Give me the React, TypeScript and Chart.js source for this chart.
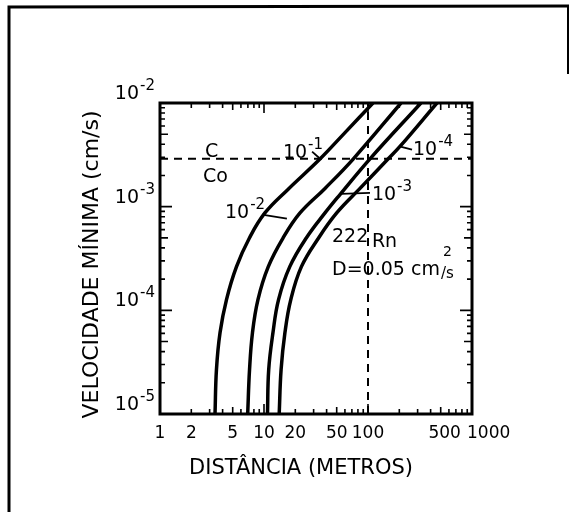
import React, { useEffect, useRef } from "react";
import { Chart, registerables } from "chart.js";

Chart.register(...registerables);

// ---- axis ticks ----
const xTickValues = [1, 2, 5, 10, 20, 50, 100, 500, 1000];
const xTickLabels = ["1", "2", "5", "10", "20", "50", "100", "500", "1000"];
const yTickValues = [1e-2, 1e-3, 1e-4, 1e-5];
const yTickExponents = ["-2", "-3", "-4", "-5"];

const xTitle = "DISTÂNCIA (METROS)";
const yTitle = "VELOCIDADE MÍNIMA (cm/s)";

// ---- curves: C/C0 = 10^-1, 10^-2, 10^-3, 10^-4 ----
const curveExponents = ["-1", "-2", "-3", "-4"];

const velocity1 = [1e-5, 2.68e-5, 6.1e-5, 1.27e-4, 2.64e-4, 5.02e-4, 8.7e-4, 1.46e-3, 2.88e-3, 5.18e-3, 1e-2];
const distance1 = [3.38, 3.49, 3.78, 4.36, 5.44, 7.26, 10.2, 16.9, 34.5, 60.1, 111.7];

const velocity2 = [1e-5, 2.68e-5, 6.1e-5, 1.27e-4, 2.64e-4, 5.02e-4, 8.7e-4, 1.5e-3, 2.88e-3, 1e-2];
const distance2 = [6.97, 7.26, 7.75, 8.75, 11.0, 15.3, 22.2, 38.6, 72, 207.6];

const velocity3 = [1e-5, 2.68e-5, 6.1e-5, 1.27e-4, 2.64e-4, 5.02e-4, 8.7e-4, 1.31e-3, 2.88e-3, 1e-2];
const distance3 = [10.8, 11.1, 12.2, 13.8, 17.7, 25.6, 38.6, 53.8, 104, 323];

const velocity4 = [1e-5, 2.68e-5, 6.1e-5, 1.27e-4, 2.64e-4, 5.02e-4, 8.7e-4, 1.5e-3, 2.88e-3, 3.81e-3, 1e-2];
const distance4 = [14.0, 14.6, 15.9, 18.1, 22.9, 33.6, 50, 83.8, 155.7, 203, 460];

// ---- dashed reference lines ----
const referenceVelocity = 2.9e-3;
const referenceDistance = 100;

const FONT = '"DejaVu Sans", sans-serif';

const toPoints = (xs: number[], ys: number[]) => xs.map((x, i) => ({ x, y: ys[i] }));

const decorPlugin = {
  id: "decor",
  afterDraw(chart: any) {
    const ctx = chart.ctx as CanvasRenderingContext2D;
    const xs = chart.scales.x;
    const ys = chart.scales.y;
    const ca = chart.chartArea;
    const X = (v: number) => xs.getPixelForValue(v);
    const Y = (v: number) => ys.getPixelForValue(v);
    ctx.save();
    ctx.strokeStyle = "#000";
    ctx.fillStyle = "#000";
    ctx.lineCap = "butt";

    // inward ticks on all four sides
    ctx.lineWidth = 1.6;
    ctx.beginPath();
    for (let e = 0; e <= 3; e++) {
      for (let m = 1; m <= 9; m++) {
        const v = m * Math.pow(10, e);
        if (v > 1000) break;
        const px = X(v);
        const len = m === 1 ? 10 : m === 5 ? 7 : 5;
        ctx.moveTo(px, ca.bottom);
        ctx.lineTo(px, ca.bottom - len);
        ctx.moveTo(px, ca.top);
        ctx.lineTo(px, ca.top + len);
      }
    }
    for (let e = -5; e <= -2; e++) {
      for (let m = 1; m <= 9; m++) {
        const v = m * Math.pow(10, e);
        if (v > 1.0001e-2) break;
        const py = Y(v);
        const len = m === 1 ? 12 : m === 5 ? 8 : 5;
        ctx.moveTo(ca.left, py);
        ctx.lineTo(ca.left + len, py);
        ctx.moveTo(ca.right, py);
        ctx.lineTo(ca.right - len, py);
      }
    }
    ctx.stroke();

    // plot box
    ctx.lineWidth = 3;
    ctx.strokeRect(ca.left, ca.top, ca.right - ca.left, ca.bottom - ca.top);

    // y tick labels with superscripts
    ctx.textBaseline = "alphabetic";
    yTickValues.forEach((v, i) => {
      const py = Y(v);
      ctx.font = `19px ${FONT}`;
      ctx.textAlign = "right";
      ctx.fillText("10", ca.left - 21, py - 4);
      ctx.font = `15px ${FONT}`;
      ctx.textAlign = "left";
      ctx.fillText(yTickExponents[i], ca.left - 20, py - 13);
    });

    // x tick labels
    ctx.font = `17px ${FONT}`;
    xTickValues.forEach((v, i) => {
      const px = X(v);
      if (v === 1000) {
        ctx.textAlign = "left";
        ctx.fillText(xTickLabels[i], px - 5, ca.bottom + 24);
      } else {
        ctx.textAlign = "center";
        ctx.fillText(xTickLabels[i], px + (v === 500 ? 4 : 0), ca.bottom + 24);
      }
    });

    // axis titles
    ctx.textAlign = "center";
    ctx.font = `21px ${FONT}`;
    ctx.fillText(xTitle, (ca.left + ca.right) / 2 - 15, ca.bottom + 60);
    ctx.save();
    ctx.translate(ca.left - 62, (ca.top + ca.bottom) / 2 + 6);
    ctx.rotate(-Math.PI / 2);
    ctx.font = `22px ${FONT}`;
    ctx.fillText(yTitle, 0, 0);
    ctx.restore();

    // annotations
    const pow10 = (xv: number, yv: number, exp: string) => {
      const px = X(xv);
      const py = Y(yv);
      ctx.textAlign = "left";
      ctx.font = `19px ${FONT}`;
      ctx.fillText("10", px, py);
      const w = ctx.measureText("10").width;
      ctx.font = `15px ${FONT}`;
      ctx.fillText(exp, px + w + 1, py - 9);
    };
    const line = (x1: number, y1: number, x2: number, y2: number) => {
      ctx.lineWidth = 1.8;
      ctx.beginPath();
      ctx.moveTo(X(x1), Y(y1));
      ctx.lineTo(X(x2), Y(y2));
      ctx.stroke();
    };

    ctx.textAlign = "left";
    ctx.font = `19px ${FONT}`;
    ctx.fillText("C", X(2.71), Y(3.03e-3));
    ctx.fillText("Co", X(2.59), Y(1.73e-3));

    pow10(15.2, 2.97e-3, curveExponents[0]);
    line(29, 3.4e-3, 34, 2.95e-3);
    pow10(4.22, 7.83e-4, curveExponents[1]);
    line(9.57, 8.37e-4, 16.6, 7.66e-4);
    pow10(109, 1.17e-3, curveExponents[2]);
    line(55, 1.33e-3, 104.5, 1.36e-3);
    pow10(271, 3.17e-3, curveExponents[3]);
    line(205, 3.8e-3, 265, 3.55e-3);

    ctx.font = `19px ${FONT}`;
    ctx.fillText("222", X(45.1), Y(4.59e-4));
    ctx.fillText("Rn", X(109), Y(4.11e-4));
    ctx.fillText("D=0.05 cm", X(45.1), Y(2.21e-4));
    ctx.font = `14px ${FONT}`;
    ctx.fillText("2", X(526), Y(3.37e-4));
    ctx.font = `15px ${FONT}`;
    ctx.fillText("/s", X(504), Y(2.07e-4));

    // outer frame of the scanned figure
    ctx.lineWidth = 3;
    ctx.beginPath();
    ctx.moveTo(9, 512);
    ctx.lineTo(9, 7);
    ctx.lineTo(569, 6);
    ctx.stroke();
    ctx.lineWidth = 2;
    ctx.beginPath();
    ctx.moveTo(568, 5);
    ctx.lineTo(568, 74);
    ctx.stroke();

    ctx.restore();
  },
};

export default function App() {
  const canvasRef = useRef<HTMLCanvasElement | null>(null);

  useEffect(() => {
    if (!canvasRef.current) return;
    const curve = (xs: number[], ys: number[], label: string) => ({
      label,
      data: toPoints(xs, ys),
      showLine: true,
      borderColor: "#000",
      borderWidth: 3.5,
      pointRadius: 0,
      tension: 0.4,
      fill: false,
    });
    const chart = new Chart(canvasRef.current, {
      type: "scatter",
      data: {
        datasets: [
          {
            label: "C/Co",
            data: [
              { x: 1, y: referenceVelocity },
              { x: 1000, y: referenceVelocity },
            ],
            showLine: true,
            borderColor: "#000",
            borderWidth: 2,
            borderDash: [8, 6],
            pointRadius: 0,
          },
          {
            label: "100 m",
            data: [
              { x: referenceDistance, y: 1e-5 },
              { x: referenceDistance, y: 1e-2 },
            ],
            showLine: true,
            borderColor: "#000",
            borderWidth: 2,
            borderDash: [8, 6],
            pointRadius: 0,
          },
          curve(distance1, velocity1, "10^-1"),
          curve(distance2, velocity2, "10^-2"),
          curve(distance3, velocity3, "10^-3"),
          curve(distance4, velocity4, "10^-4"),
        ],
      },
      options: {
        animation: false,
        responsive: false,
        devicePixelRatio: 1,
        layout: { padding: { left: 0, right: 103, top: 103, bottom: 0 } },
        plugins: {
          legend: { display: false },
          tooltip: { enabled: false },
        },
        scales: {
          x: {
            type: "logarithmic",
            min: 1,
            max: 1000,
            position: "bottom",
            grid: { display: false, drawTicks: false },
            border: { display: false },
            ticks: { display: false },
            title: { display: false, text: xTitle },
            afterFit: (s: any) => {
              s.height = 98;
            },
          },
          y: {
            type: "logarithmic",
            min: 1e-5,
            max: 1e-2,
            position: "left",
            grid: { display: false, drawTicks: false },
            border: { display: false },
            ticks: { display: false },
            title: { display: false, text: yTitle },
            afterFit: (s: any) => {
              s.width = 160;
            },
          },
        },
      },
      plugins: [decorPlugin],
    } as any);
    return () => chart.destroy();
  }, []);

  return (
    <div style={{ position: "absolute", left: 0, top: 0, width: 575, height: 512, background: "#fff" }}>
      <canvas ref={canvasRef} width={575} height={512} style={{ display: "block" }} />
    </div>
  );
}
